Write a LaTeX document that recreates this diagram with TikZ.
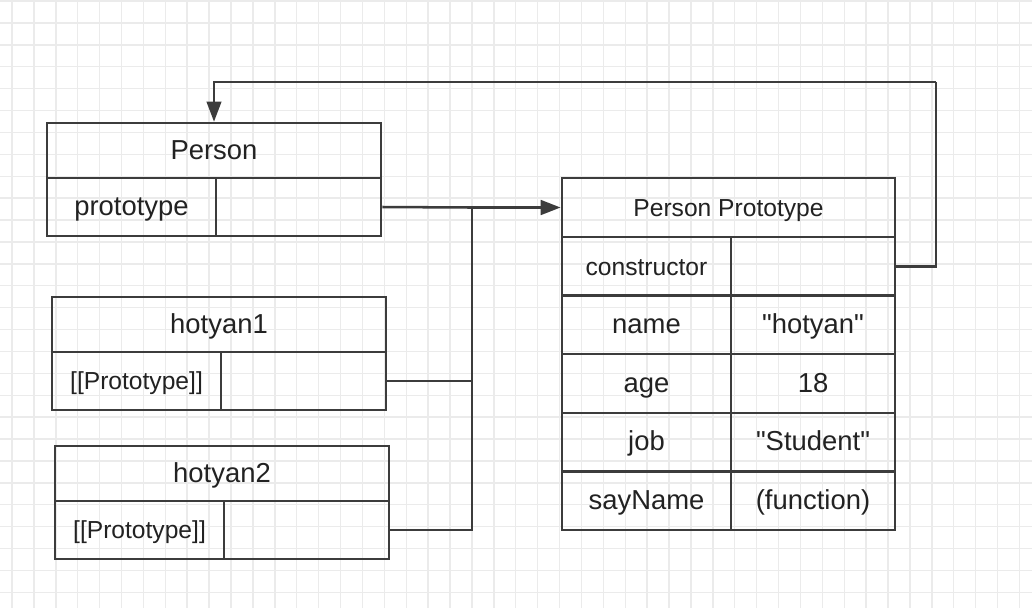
\documentclass[tikz,border=0pt]{standalone}
\usepackage{fontspec}
\setmainfont{Liberation Sans}
\usetikzlibrary{arrows.meta}
\definecolor{ink}{HTML}{3C3C3C}
\definecolor{txt}{HTML}{222222}
\definecolor{gridgray}{HTML}{EBEBEB}

\begin{document}
\begin{tikzpicture}[x=0.025cm,y=-0.025cm,
	every node/.style={draw=ink,line width=1.8pt,inner sep=0pt,text=txt,text height=13.5pt,text depth=1pt},
	big/.style={font=\fontsize{19.5}{21}\selectfont},
	small/.style={font=\fontsize{17.5}{19}\selectfont},
	link/.style={draw=ink,line width=1.8pt},
	pointer/.style={-{Triangle[length=0.5cm,width=0.36cm]}}]
\def\pxl{0.025cm}
\def\q{\textquotedbl}

%background
\useasboundingbox (0,0) rectangle (1032,608);
\fill[white] (0,0) rectangle (1032,608);
\foreach \i in {0,...,46}{
	\draw[gridgray,line width=1pt] ({12+21.9*\i},0) -- ({12+21.9*\i},608);}
\foreach \i in {0,...,27}{
	\draw[gridgray,line width=1pt] (0,{1+21.9*\i}) -- (1032,{1+21.9*\i});}

%objects
\foreach \nm/\x/\y/\ttl/\key/\fnt in {p/47/123/Person/prototype/big,h1/52/297/hotyan1/[[Prototype]]/small,h2/55/446/hotyan2/[[Prototype]]/small}{
	\node[big,minimum width=334*\pxl,minimum height=55*\pxl] (\nm H) at (\x+167,\y+27.5) {\ttl};
	\node[\fnt,minimum width=169*\pxl,minimum height=58*\pxl] (\nm L) at (\x+84.5,\y+84) {\key};
	\node[minimum width=165*\pxl,minimum height=58*\pxl] (\nm R) at (\x+251.5,\y+84) {};
}

%prototype
\node[small,minimum width=333*\pxl,minimum height=59*\pxl] (ppH) at (728.5,207.5) {Person Prototype};
\foreach \r/\k/\v/\fnt in {1/constructor//small,2/name/\q hotyan\q/big,3/age/18/big,4/job/\q Student\q/big,5/sayName/(function)/big}{
	\pgfmathsetmacro{\yc}{237+58.6*(\r-0.5)}
	\node[\fnt,minimum width=169*\pxl,minimum height=58.6*\pxl] (pp\r L) at (646.5,\yc) {\k};
	\node[big,minimum width=164*\pxl,minimum height=58.6*\pxl] (pp\r R) at (813,\yc) {\v};
}

%edges
\coordinate (j) at (472,207.5);
\coordinate (c) at (936,82);
\draw[link] (pR.east) -- (j);
\draw[link] (h1R.east) -| (j);
\draw[link] (h2R.east) -| (j);
\draw[link,pointer,line width=2.4pt] (j) -- (ppH.west);
\draw[link] (pp1R.east) -| (c);
\draw[link,pointer] (c) -| (pH.north);

\end{tikzpicture}
\end{document}
